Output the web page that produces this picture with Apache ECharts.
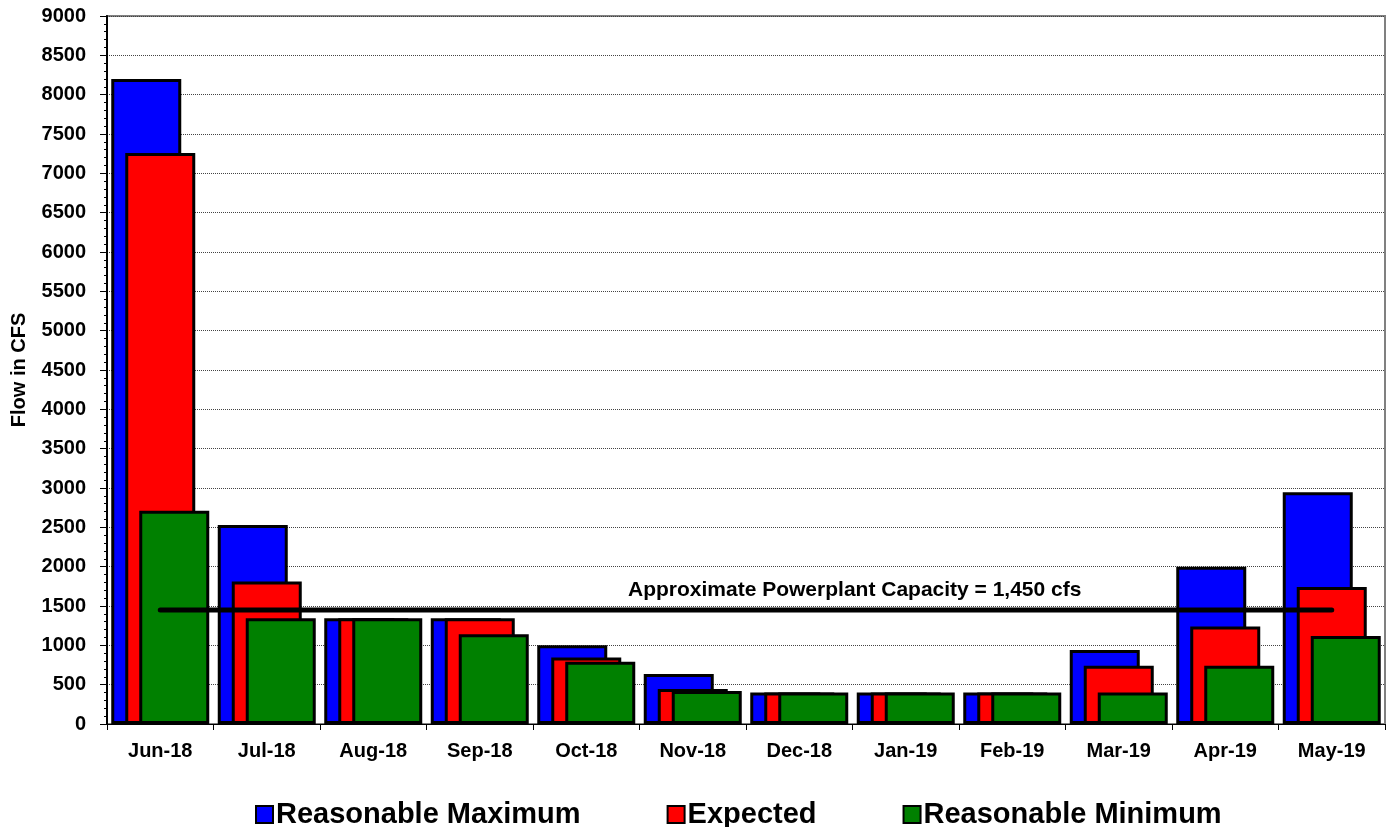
<!DOCTYPE html>
<html><head><meta charset="utf-8">
<script src="https://cdn.jsdelivr.net/npm/echarts@6/dist/echarts.min.js"></script>
<style>html,body{margin:0;padding:0;background:#fff}#c{width:1388px;height:827px}</style>
</head><body><div id="c"></div>
<script>
const categories = ['Jun-18','Jul-18','Aug-18','Sep-18','Oct-18','Nov-18','Dec-18','Jan-19','Feb-19','Mar-19','Apr-19','May-19'];
const reasonableMax = [8200, 2530, 1345, 1345, 1000, 635, 400, 400, 400, 940, 2000, 2945];
const expected      = [7260, 1810, 1345, 1345, 845, 445, 400, 400, 400, 740, 1240, 1740];
const reasonableMin = [2710, 1345, 1345, 1140, 790, 420, 400, 400, 400, 400, 740, 1120];
const capacity = 1450;
const capacityLine = categories.map(() => capacity);
const yTicks = {min: 0, max: 9000, interval: 500};

const chart = echarts.init(document.getElementById('c'));
const font = 'Arial, "Liberation Sans", sans-serif';
const barStyle = c => ({color: c, borderColor: '#000', borderWidth: 3});
chart.setOption({
  animation: false,
  backgroundColor: '#fff',
  grid: {left: 107, right: 3, top: 16, bottom: 103, show: true, borderColor: '#808080', borderWidth: 2},
  legend: {
    top: 795, left: 250, itemWidth: 17, itemHeight: 17, itemGap: 86, icon: 'rect',
    itemStyle: {borderColor: '#000', borderWidth: 2},
    textStyle: {fontFamily: font, fontWeight: 'bold', fontSize: 29, color: '#000', padding: [0,0,0,-2]},
    data: ['Reasonable Maximum','Expected','Reasonable Minimum']
  },
  xAxis: {
    type: 'category', data: categories,
    axisLine: {lineStyle: {color: '#000', width: 1}},
    axisTick: {show: true, length: 6, lineStyle: {color: '#000'}},
    axisLabel: {fontFamily: font, fontWeight: 'bold', fontSize: 20, color: '#000', margin: 17}
  },
  yAxis: {
    type: 'value', min: yTicks.min, max: yTicks.max, interval: yTicks.interval,
    axisLine: {show: true, lineStyle: {color: '#000', width: 2}},
    axisTick: {show: true, length: 7, lineStyle: {color: '#000'}},
    minorTick: {show: true, splitNumber: 5, length: 3, lineStyle: {color: '#000'}},
    axisLabel: {fontFamily: font, fontWeight: 'bold', fontSize: 20, color: '#000', margin: 21,
                formatter: v => String(v)},
    splitLine: {show: true, lineStyle: {color: '#444', type: [1, 1], width: 1}}
  },
  series: [
    {name: 'Reasonable Maximum', type: 'bar', data: reasonableMax, barWidth: 70, barGap: '-80%', itemStyle: barStyle('#0000ff')},
    {name: 'Expected', type: 'bar', data: expected, barWidth: 70, barGap: '-80%', itemStyle: barStyle('#ff0000')},
    {name: 'Reasonable Minimum', type: 'bar', data: reasonableMin, barWidth: 70, barGap: '-80%', itemStyle: barStyle('#008000')},
    {name: 'Capacity', type: 'line', data: capacityLine, symbol: 'none', z: 10,
     lineStyle: {color: '#000', width: 5, cap: 'round'}, silent: true}
  ],
  graphic: [
    {type: 'text', x: 628, y: 590, z: 20,
     style: {text: 'Approximate Powerplant Capacity = 1,450 cfs', font: 'bold 21px ' + font, fill: '#000',
             textAlign: 'left', textVerticalAlign: 'middle'}},
    {type: 'text', x: 19, y: 370, rotation: Math.PI / 2, z: 20,
     style: {text: 'Flow in CFS', font: 'bold 20px ' + font, fill: '#000',
             textAlign: 'center', textVerticalAlign: 'middle'}}
  ]
});
</script></body></html>
